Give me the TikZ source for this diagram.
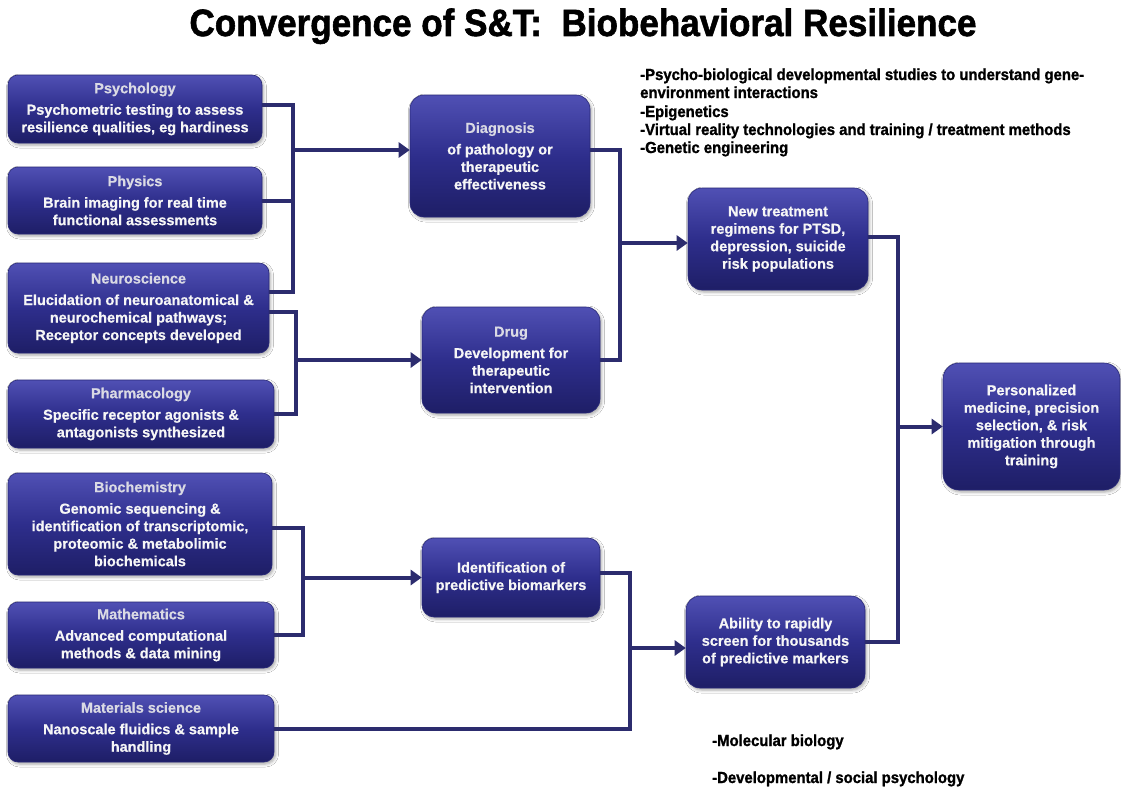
\documentclass[tikz,border=0pt]{standalone}
\usepackage{graphicx}
\usepackage{fontspec}
\setmainfont{Liberation Sans}
\newfontfamily\boxfont[BoldFeatures={FakeBold=0.5}]{Liberation Sans}
\newfontfamily\titlefont[BoldFeatures={FakeBold=1.6}]{Liberation Sans}
\newfontfamily\narrowfont[FakeStretch=0.93, BoldFeatures={FakeBold=1.2}]{Liberation Sans}
\usetikzlibrary{arrows.meta,shadows.blur}

\definecolor{boxtop}{RGB}{80,80,180}
\definecolor{boxmid}{RGB}{46,46,140}
\definecolor{boxbot}{RGB}{30,30,102}
\definecolor{boxedge}{RGB}{40,40,120}
\definecolor{wire}{RGB}{44,44,110}
\definecolor{headcol}{RGB}{218,218,228}
\definecolor{bodycol}{RGB}{246,246,246}

\tikzset{
  box/.style={rectangle, rounded corners=10pt, draw=boxedge, line width=0.6pt,
    top color=boxtop, bottom color=boxbot, middle color=boxmid,
    align=center, text=bodycol, inner sep=2pt,
    font=\boxfont\bfseries\fontsize{14.5}{17.5}\selectfont,
    blur shadow={shadow xshift=1.5pt, shadow yshift=-2pt, shadow blur radius=3pt, shadow opacity=35}},
  wirestyle/.style={draw=wire, line width=4pt, line join=miter},
  feed/.style={wirestyle, -{Triangle[length=11pt,width=15pt]}},
  note/.style={anchor=base west, inner sep=0pt, text=black,
    font=\narrowfont\bfseries\fontsize{16}{18}\selectfont},
}
\newcommand{\hd}[1]{\textcolor{headcol}{#1}\\[4pt]}

\begin{document}
\begin{tikzpicture}[x=1pt, y=-1pt]
\fill[white] (0,0) rectangle (1121,792);
\useasboundingbox (0,0) rectangle (1121,792);

% title
\node[anchor=base, inner sep=0pt] (title) at (583,36)
  {\resizebox{787pt}{\height}{\titlefont\bfseries\fontsize{38}{42}\selectfont Convergence of S\&T:\ \ Biobehavioral Resilience}};

% disciplines
\node[box, minimum width=254pt, minimum height=68pt] (psy) at (135,109)
  {\hd{Psychology}Psychometric testing to assess\\resilience qualities, eg hardiness};
\node[box, minimum width=254pt, minimum height=67pt] (phy) at (135,200.5)
  {\hd{Physics}Brain imaging for real time\\functional assessments};
\node[box, minimum width=261pt, minimum height=90pt] (neu) at (138.5,308)
  {\hd{Neuroscience}Elucidation of neuroanatomical \&\\neurochemical pathways;\\Receptor concepts developed};
\node[box, minimum width=266pt, minimum height=68pt] (pha) at (141,414)
  {\hd{Pharmacology}Specific receptor agonists \&\\antagonists synthesized};
\node[box, minimum width=264pt, minimum height=102pt] (bio) at (140,524)
  {\hd{Biochemistry}Genomic sequencing \&\\identification of transcriptomic,\\proteomic \& metabolimic\\biochemicals};
\node[box, minimum width=266pt, minimum height=66pt] (mat) at (141,635)
  {\hd{Mathematics}Advanced computational\\methods \& data mining};
\node[box, minimum width=266pt, minimum height=67pt] (mats) at (141,728.5)
  {\hd{Materials science}Nanoscale fluidics \& sample\\handling};

% intermediate results
\node[box, rounded corners=14pt, minimum width=180pt, minimum height=122pt] (diag) at (500,156)
  {\hd{Diagnosis}of pathology or\\therapeutic\\effectiveness};
\node[box, rounded corners=14pt, minimum width=178pt, minimum height=106pt] (drug) at (511,360)
  {\hd{Drug}Development for\\therapeutic\\intervention};
\node[box, rounded corners=12pt, minimum width=178pt, minimum height=79pt] (ident) at (511,577.5)
  {Identification of\\predictive biomarkers};
\node[box, rounded corners=14pt, minimum width=180pt, minimum height=102pt] (newt) at (778,239)
  {New treatment\\regimens for PTSD,\\depression, suicide\\risk populations};
\node[box, rounded corners=14pt, minimum width=179pt, minimum height=92pt] (abil) at (775.5,642)
  {Ability to rapidly\\screen for thousands\\of predictive markers};
\node[box, rounded corners=16pt, minimum width=177pt, minimum height=127pt] (pers) at (1031.5,426.5)
  {Personalized\\medicine, precision\\selection, \& risk\\mitigation through\\training};

% enabling technologies
\node[note] (n1) at (640,80) {-Psycho-biological developmental studies to understand gene-};
\node[note] (n2) at (640,98) {environment interactions};
\node[note] (n3) at (640,117) {-Epigenetics};
\node[note] (n4) at (640,135) {-Virtual reality technologies and training / treatment methods};
\node[note] (n5) at (640,153) {-Genetic engineering};
\node[note] (n6) at (712,746) {-Molecular biology};
\node[note] (n7) at (712,783) {-Developmental / social psychology};

% connector buses
\coordinate (bus1) at (293,0);
\coordinate (bus2) at (296,0);
\coordinate (bus3) at (620,0);
\coordinate (bus4) at (898,0);
\coordinate (bus5) at (303,0);
\coordinate (bus6) at (630,0);

\coordinate (psyA) at ([yshift=4pt]psy.east);
\coordinate (neuA) at ([yshift=16pt]neu.east);
\coordinate (neuB) at ([yshift=-4pt]neu.east);
\coordinate (diagIn) at ([yshift=6pt]diag.west);
\coordinate (diagOut) at ([yshift=6pt]diag.east);
\coordinate (newIn) at ([yshift=-4pt]newt.west);
\coordinate (newOut) at ([yshift=2pt]newt.east);
\coordinate (bioOut) at ([yshift=-4pt]bio.east);
\coordinate (idOut) at ([yshift=4.5pt]ident.east);
\coordinate (abIn) at ([yshift=-6pt]abil.west);

% psychology, physics, neuroscience -> diagnosis
\draw[wirestyle] (psyA) -- (psyA -| bus1) -- (neuA -| bus1) -- (neuA);
\draw[wirestyle] (phy.east) -- (phy.east -| bus1);
\draw[feed] (diagIn -| bus1) -- (diagIn);

% neuroscience, pharmacology -> drug
\draw[wirestyle] (neuB) -- (neuB -| bus2) -- (pha.east -| bus2) -- (pha.east);
\draw[feed] (drug.west -| bus2) -- (drug.west);

% diagnosis, drug -> new treatment
\draw[wirestyle] (diagOut) -- (diagOut -| bus3) -- (drug.east -| bus3) -- (drug.east);
\draw[feed] (newIn -| bus3) -- (newIn);

% biochemistry, mathematics -> identification
\draw[wirestyle] (bioOut) -- (bioOut -| bus5) -- (mat.east -| bus5) -- (mat.east);
\draw[feed] (ident.west -| bus5) -- (ident.west);

% identification, materials science -> screening
\draw[wirestyle] (idOut) -- (idOut -| bus6) -- (mats.east -| bus6) -- (mats.east);
\draw[feed] (abIn -| bus6) -- (abIn);

% new treatment, screening -> personalized medicine
\draw[wirestyle] (newOut) -- (newOut -| bus4) -- (abil.east -| bus4) -- (abil.east);
\draw[feed] (pers.west -| bus4) -- (pers.west);
\end{tikzpicture}
\end{document}
